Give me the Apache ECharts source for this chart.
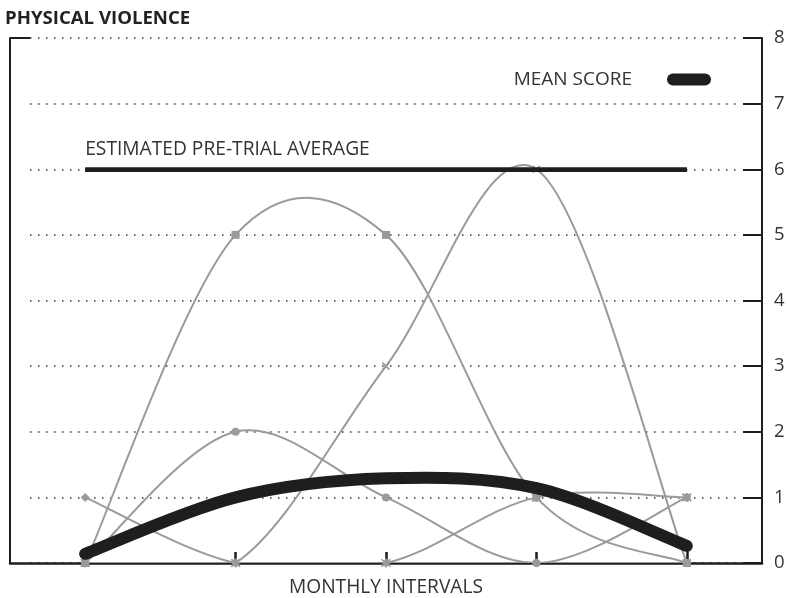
<!DOCTYPE html>
<html>
<head>
<meta charset="utf-8">
<script src="https://cdn.jsdelivr.net/npm/echarts@6/dist/echarts.min.js"></script>
<style>
html,body{margin:0;padding:0;background:#fff;}
#chart{width:787px;height:598px;}
</style>
</head>
<body>
<div id="chart"></div>
<script>
const categories = ['1', '2', '3', '4', '5'];
const yTicks = [0, 1, 2, 3, 4, 5, 6, 7, 8];
const seriesDiamond = [1, 0, 0, 0, 0];
const seriesSquare = [0, 5, 5, 1, 0];
const seriesCircle = [0, 2, 1, 0, 1];
const seriesCross = [0, 0, 3, 6, 0];
const seriesStar = [0, 0, 0, 1, 1];
const seriesTriangle = [0, 0, 0, 0, 0];
const seriesFlat = [0, 0, 0, 0, 0];
const meanScore = [0.14, 1.0, 1.29, 1.14, 0.26];
const preTrial = [6, 6, 6, 6, 6];

const FONT = 'Open Sans';
const GRAY = '#9a9a9a';
const INK = '#1e1e1e';

// Smooth (Catmull-Rom style) curve drawn through the library's coordinate system
function curveSeries(name, values, color, width, cap, z) {
  return {
    name: name, type: 'custom', coordinateSystem: 'cartesian2d',
    xAxisIndex: 0, yAxisIndex: 0, z: z, silent: true, clip: true,
    itemStyle: { color: color },
    data: values.map(function (v, i) { return [i, v]; }),
    renderItem: function (params, api) {
      if (params.dataIndex !== 0) return null;
      const pts = values.map(function (v, i) { return api.coord([i, v]); });
      let d = 'M' + pts[0][0] + ' ' + pts[0][1];
      for (let i = 0; i < pts.length - 1; i++) {
        const p0 = pts[i - 1] || pts[i];
        const p1 = pts[i];
        const p2 = pts[i + 1];
        const p3 = pts[i + 2] || pts[i + 1];
        const c1x = p1[0] + (p2[0] - p0[0]) / 6, c1y = p1[1] + (p2[1] - p0[1]) / 6;
        const c2x = p2[0] - (p3[0] - p1[0]) / 6, c2y = p2[1] - (p3[1] - p1[1]) / 6;
        d += ' C' + c1x + ' ' + c1y + ' ' + c2x + ' ' + c2y + ' ' + p2[0] + ' ' + p2[1];
      }
      return {
        type: 'path',
        shape: { pathData: d },
        style: { fill: null, stroke: color, lineWidth: width, lineCap: cap, lineJoin: 'round' }
      };
    }
  };
}

function markerSeries(name, values, symbol, size, stroke) {
  return {
    name: name, type: 'line', data: values,
    xAxisIndex: 0, yAxisIndex: 0,
    symbol: symbol, symbolSize: size, showSymbol: true,
    lineStyle: { opacity: 0 },
    itemStyle: stroke ? { color: 'transparent', borderColor: GRAY, borderWidth: 1.6 } : { color: GRAY },
    z: 3, silent: true
  };
}

const grayData = [seriesDiamond, seriesSquare, seriesCircle, seriesCross, seriesStar, seriesTriangle, seriesFlat];
const series = [];
grayData.forEach(function (vals, k) {
  series.push(curveSeries('curve' + k, vals, GRAY, 2, 'butt', 2));
});
series.push(markerSeries('A', seriesDiamond, 'diamond', 9, false));
series.push(markerSeries('B', seriesSquare, 'rect', 8, false));
series.push(markerSeries('C', seriesCircle, 'circle', 8, false));
series.push(markerSeries('D', seriesCross, 'path://M0,0 L10,10 M10,0 L0,10', 7, true));
series.push(markerSeries('E', seriesStar, 'path://M0,0 L10,10 M10,0 L0,10 M5,-1 L5,11', 9, true));
series.push(markerSeries('F', seriesTriangle, 'triangle', 6, false));
series.push({
  name: 'PRE-TRIAL', type: 'line', data: preTrial, xAxisIndex: 0, yAxisIndex: 0,
  symbol: 'none', lineStyle: { color: INK, width: 4 }, z: 4, silent: true,
  markLine: {
    silent: true, symbol: ['none', 'none'],
    lineStyle: { color: INK, width: 4, type: 'solid' },
    label: { show: true, position: 'insideStartTop', distance: [0, 10],
      formatter: 'ESTIMATED PRE-TRIAL AVERAGE',
      fontFamily: FONT, fontSize: 19.2, color: '#333' },
    data: [[{ coord: [0, preTrial[0]] }, { coord: [4, preTrial[4]] }]]
  }
});
series.push(curveSeries('MEAN SCORE', meanScore, INK, 12, 'round', 5));

const chart = echarts.init(document.getElementById('chart'), null, { renderer: 'canvas' });
chart.setOption({
  animation: false,
  backgroundColor: '#ffffff',
  title: {
    text: 'PHYSICAL VIOLENCE', left: 0, top: 4,
    textStyle: { fontFamily: FONT, fontSize: 18.6, fontWeight: 'bold', color: '#222' }
  },
  legend: {
    data: ['MEAN SCORE'], right: 71, top: 65, align: 'right',
    itemWidth: 44, itemHeight: 12,
    icon: 'path://M6,0 L38,0 A6,6 0 0 1 38,12 L6,12 A6,6 0 0 1 6,0 Z',
    itemStyle: { color: INK },
    textStyle: { fontFamily: FONT, fontSize: 19, color: '#333', padding: [0, 30, 0, 0] }
  },
  grid: [
    { left: 10, right: 25, top: 38, bottom: 35, outerBoundsMode: 'none', containLabel: false },
    { left: 30, right: 47, top: 38, bottom: 35, outerBoundsMode: 'none', containLabel: false }
  ],
  xAxis: [
    {
      type: 'category', data: categories, gridIndex: 0, boundaryGap: true,
      name: 'MONTHLY INTERVALS', nameLocation: 'middle', nameGap: 15,
      nameTextStyle: { fontFamily: FONT, fontSize: 19.2, color: '#333' },
      axisLine: { show: true, lineStyle: { color: INK, width: 2.5 } },
      axisTick: { show: true, inside: true, alignWithLabel: true, length: 11, lineStyle: { color: INK, width: 2.5 } },
      axisLabel: { show: false },
      splitLine: { show: false }
    },
    {
      type: 'category', data: categories, gridIndex: 1, show: false
    }
  ],
  yAxis: [
    {
      type: 'value', gridIndex: 0, position: 'right', min: 0, max: 8, interval: 1,
      axisLine: { show: true, lineStyle: { color: INK, width: 2 } },
      axisTick: { show: true, inside: true, length: 19, lineStyle: { color: INK, width: 2 } },
      axisLabel: { show: true, margin: 12, fontFamily: FONT, fontSize: 18.5, color: '#333',
        formatter: function (v) { return yTicks.indexOf(v) >= 0 ? String(v) : ''; } },
      splitLine: { show: false }
    },
    {
      type: 'value', gridIndex: 0, position: 'left', min: 0, max: 8, interval: 1,
      axisLine: { show: true, lineStyle: { color: INK, width: 2 } },
      axisTick: { show: true, inside: true, length: 20, customValues: [8], lineStyle: { color: INK, width: 2 } },
      axisLabel: { show: false },
      splitLine: { show: false }
    },
    {
      type: 'value', gridIndex: 1, min: 0, max: 8, interval: 1,
      axisLine: { show: false }, axisTick: { show: false }, axisLabel: { show: false },
      splitLine: { show: true, lineStyle: { color: '#333', width: 1.5, type: [1.5, 6.5] } }
    }
  ],
  series: series
});
</script>
</body>
</html>
